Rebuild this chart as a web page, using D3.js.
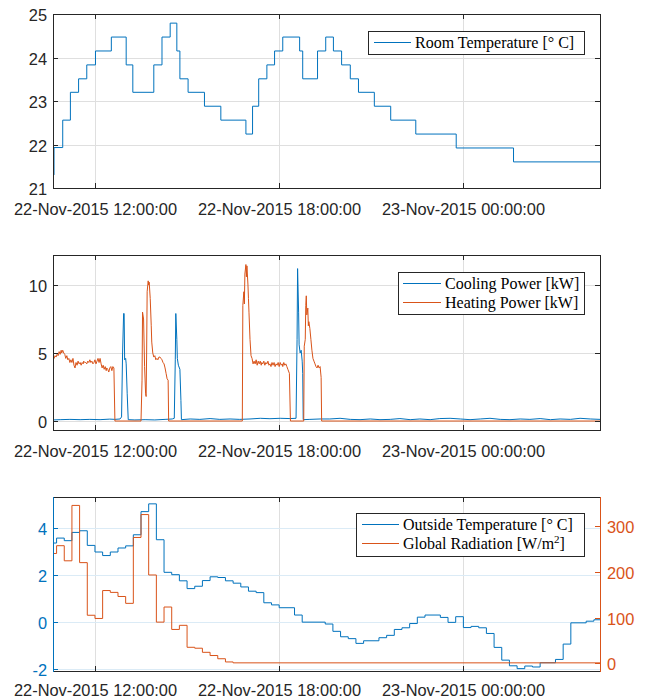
<!DOCTYPE html>
<html><head><meta charset="utf-8">
<script src="https://cdn.jsdelivr.net/npm/d3@7"></script>
<style>body{margin:0;background:#fff}svg{display:block}</style>
</head><body>
<svg id="c" width="646" height="699"></svg>
<script>
// ---- data (time = minutes after 22-Nov-2015 00:00) ----
const timeRange = [638, 1707];
const xTickMinutes = [720, 1080, 1440];

const roomTemperature = [[638,21.3],[640,21.93],[657,22.56],[672,23.2],[688,23.51],[704,23.83],[721,24.15],[752,24.47],[781,23.83],[794,23.2],[835,23.83],[851,24.47],[867,24.79],[880,24.15],[886,23.51],[902,23.2],[934,22.88],[966,22.56],[1015,22.24],[1028,22.88],[1040,23.51],[1056,23.83],[1071,24.15],[1087,24.47],[1120,24.15],[1126,23.51],[1155,24.15],[1171,24.47],[1186,24.15],[1202,23.83],[1219,23.51],[1235,23.2],[1266,22.88],[1298,22.56],[1347,22.24],[1426,21.92],[1538,21.6]];

const coolingPower = [[638,0.08],[652,0.1],[671,0.12],[691,0.1],[710,0.12],[730,0.1],[749,0.14],[759,0.12],[769,0.15],[772,0.3],[774,5.0],[776,7.9],[777,7.9],[778,4.5],[780,4.6],[781,4.2],[783,2.0],[785,0.1],[798,0.08],[818,0.1],[837,0.08],[857,0.12],[871,0.15],[875,0.2],[877,4.5],[878,7.9],[880,6.0],[881,4.6],[883,4.1],[886,3.8],[888,1.5],[889,0.1],[906,0.15],[925,0.12],[945,0.18],[964,0.12],[984,0.15],[1003,0.12],[1023,0.15],[1043,0.2],[1062,0.17],[1082,0.2],[1101,0.18],[1113,0.2],[1115,6.0],[1116,11.2],[1118,8.0],[1119,5.6],[1121,5.0],[1123,5.2],[1125,4.4],[1126,3.5],[1127,0.1],[1140,0.12],[1160,0.15],[1179,0.15],[1199,0.2],[1219,0.12],[1238,0.1],[1258,0.15],[1277,0.1],[1297,0.12],[1316,0.18],[1336,0.1],[1355,0.15],[1375,0.1],[1394,0.18],[1414,0.2],[1434,0.15],[1453,0.1],[1473,0.15],[1492,0.2],[1512,0.12],[1531,0.1],[1551,0.15],[1570,0.12],[1590,0.18],[1610,0.1],[1629,0.15],[1649,0.12],[1668,0.2],[1688,0.15],[1707,0.12]];

const heatingPower = [[638,4.7],[640,4.6],[642,4.8],[644,4.7],[646,4.9],[648,4.8],[650,5.1],[652,4.9],[654,5.2],[655,5.0],[657,5.2],[659,5.0],[661,4.9],[663,4.6],[665,4.8],[667,4.5],[669,4.6],[671,4.3],[673,4.5],[675,4.3],[677,4.6],[679,4.1],[681,3.9],[683,4.3],[685,4.1],[687,4.4],[689,4.2],[691,4.3],[693,4.1],[695,4.3],[697,4.2],[698,4.4],[700,4.3],[702,4.3],[704,4.2],[706,4.4],[708,4.3],[710,4.5],[712,4.3],[714,4.4],[716,4.2],[718,4.3],[720,4.5],[722,4.2],[724,4.4],[726,4.6],[728,4.3],[730,4.6],[732,4.2],[734,3.9],[736,4.1],[738,3.8],[740,4.0],[742,3.7],[743,3.9],[745,3.8],[747,3.6],[749,3.9],[751,4.0],[753,3.7],[755,4.0],[757,3.9],[759,0],[810,0],[812,3.0],[813,8.0],[815,7.5],[817,4.0],[819,2.0],[820,1.8],[821,5.0],[822,9.5],[824,10.3],[825,10.0],[826,10.2],[828,9.0],[830,7.0],[831,5.8],[833,5.0],[835,4.7],[837,4.8],[839,4.5],[841,4.6],[843,4.5],[845,4.7],[847,4.7],[849,4.6],[851,4.5],[853,4.3],[855,4.2],[857,3.9],[859,3.5],[861,3.1],[863,3.0],[864,0],[1008,0],[1009,8.5],[1011,9.5],[1012,8.6],[1013,10.8],[1015,11.5],[1016,10.6],[1017,11.4],[1019,10.0],[1020,9.0],[1021,8.0],[1023,6.0],[1025,4.8],[1027,4.6],[1029,4.2],[1031,4.4],[1033,4.2],[1035,4.5],[1037,4.1],[1039,4.4],[1041,4.2],[1043,4.4],[1045,4.1],[1046,4.3],[1048,4.2],[1050,4.4],[1052,4.1],[1054,4.3],[1056,4.2],[1058,4.4],[1060,4.1],[1062,4.2],[1064,4.0],[1066,4.3],[1068,4.1],[1070,4.3],[1072,4.0],[1074,4.2],[1076,4.1],[1078,4.3],[1080,4.0],[1082,4.3],[1084,4.1],[1086,4.2],[1087,4.0],[1089,4.3],[1091,4.1],[1093,4.2],[1095,4.0],[1097,3.8],[1100,3.5],[1102,0],[1128,0],[1129,5.5],[1131,6.0],[1132,8.5],[1133,9.2],[1134,7.8],[1136,8.3],[1137,7.0],[1138,7.3],[1140,6.8],[1142,6.0],[1144,5.2],[1146,4.6],[1148,4.4],[1150,4.2],[1152,4.0],[1154,3.9],[1156,4.1],[1158,3.9],[1160,4.0],[1162,3.2],[1163,0],[1707,0]];

const outsideTemperature = [[638,3.35],[645,3.56],[660,3.45],[675,3.80],[690,3.87],[705,3.25],[720,2.97],[735,2.82],[750,2.97],[765,3.14],[780,3.23],[795,3.70],[810,4.68],[825,5.01],[840,3.49],[855,2.11],[870,2.01],[885,1.75],[900,1.42],[915,1.52],[930,1.76],[945,1.92],[960,1.89],[975,1.75],[990,1.65],[1005,1.49],[1020,1.31],[1035,1.25],[1050,0.82],[1065,0.73],[1080,0.61],[1110,0.30],[1125,0.00],[1170,-0.08],[1185,-0.39],[1200,-0.62],[1215,-0.70],[1230,-0.90],[1245,-0.79],[1275,-0.66],[1290,-0.56],[1305,-0.31],[1320,-0.24],[1335,-0.06],[1350,0.21],[1365,0.30],[1395,0.20],[1410,-0.01],[1425,0.23],[1440,-0.23],[1455,-0.18],[1470,-0.24],[1485,-0.48],[1500,-1.07],[1515,-1.61],[1530,-1.85],[1545,-1.97],[1560,-1.86],[1575,-1.90],[1590,-1.72],[1620,-1.58],[1635,-0.93],[1650,-0.03],[1680,0.04],[1695,0.10]];

const globalRadiation = [[638,240],[645,257],[660,224],[675,345],[690,220],[705,105],[720,98],[735,159],[750,155],[765,146],[780,131],[795,275],[810,325],[825,193],[840,90],[855,123],[870,74],[885,83],[900,35],[915,33],[930,24],[945,17],[960,10],[975,3],[990,1]];

const roomTicks = [21, 22, 23, 24, 25];
const powerTicks = [0, 5, 10];
const outsideTicks = [-2, 0, 2, 4];
const radiationTicks = [0, 100, 200, 300];

// ---- drawing ----
const BLUE = "#0072BD", ORANGE = "#D95319", AX = "#262626", GRID = "#dfdfdf", GRIDB = "#dbebf6";
const FONT = "'Liberation Sans', Arial, Helvetica, sans-serif";
const SERIF = "'Liberation Serif', 'Times New Roman', serif";
const FS = "16.4px";
const toDate = m => new Date(2015, 10, 22, 0, m);
const L = 53, R = 600;
const x = d3.scaleTime().domain(timeRange.map(toDate)).range([L, R]);
const fmt = d3.timeFormat("%d-%b-%Y %H:%M:%S");
const svg = d3.select("#c");

function extendStep(arr) { return arr.concat([[timeRange[1], arr[arr.length - 1][1]]]); }

function panel(top, bottom, id) {
  const g = svg.append("g");
  g.append("defs").append("clipPath").attr("id", id).append("rect")
    .attr("x", L).attr("y", top).attr("width", R - L).attr("height", bottom - top);
  return g;
}
function xGrid(g, top, bottom) {
  xTickMinutes.forEach(m => {
    const px = Math.round(x(toDate(m))) + 0.5;
    g.append("line").attr("x1", px).attr("x2", px).attr("y1", top).attr("y2", bottom)
      .attr("stroke", GRID).attr("stroke-width", 1);
  });
}
function yGrid(g, y, ticks, color) {
  ticks.forEach(t => {
    const py = Math.round(y(t)) + 0.5;
    g.append("line").attr("x1", L).attr("x2", R).attr("y1", py).attr("y2", py)
      .attr("stroke", color).attr("stroke-width", 1);
  });
}
function xAxis(g, top, bottom, labelOffset) {
  xTickMinutes.forEach(m => {
    const px = Math.round(x(toDate(m))) + 0.5;
    g.append("line").attr("x1", px).attr("x2", px).attr("y1", bottom).attr("y2", bottom - 5).attr("stroke", AX);
    g.append("line").attr("x1", px).attr("x2", px).attr("y1", top).attr("y2", top + 5).attr("stroke", AX);
    g.append("text").attr("x", px).attr("y", bottom + labelOffset).attr("text-anchor", "middle")
      .attr("font-family", FONT).attr("font-size", FS).attr("fill", AX).text(fmt(toDate(m)));
  });
}
function yAxisLeft(g, y, ticks, color, both) {
  ticks.forEach(t => {
    const py = Math.round(y(t)) + 0.5;
    g.append("line").attr("x1", L).attr("x2", L + 5).attr("y1", py).attr("y2", py).attr("stroke", color);
    if (both) g.append("line").attr("x1", R).attr("x2", R - 5).attr("y1", py).attr("y2", py).attr("stroke", color);
    g.append("text").attr("x", L - 6).attr("y", py + 6).attr("text-anchor", "end")
      .attr("font-family", FONT).attr("font-size", FS).attr("fill", color).text(t);
  });
}
function frame(g, top, bottom, leftColor, rightColor) {
  g.append("line").attr("x1", L).attr("x2", R).attr("y1", top + 0.5).attr("y2", top + 0.5).attr("stroke", AX);
  g.append("line").attr("x1", L).attr("x2", R).attr("y1", bottom + 0.5).attr("y2", bottom + 0.5).attr("stroke", AX);
  g.append("line").attr("x1", L + 0.5).attr("x2", L + 0.5).attr("y1", top).attr("y2", bottom + 1).attr("stroke", leftColor);
  g.append("line").attr("x1", R + 0.5).attr("x2", R + 0.5).attr("y1", top).attr("y2", bottom + 1).attr("stroke", rightColor);
}
function series(g, data, y, color, curve, clip) {
  const line = d3.line().x(d => x(toDate(d[0]))).y(d => y(d[1])).curve(curve);
  g.append("path").attr("d", line(data)).attr("fill", "none").attr("stroke", color)
    .attr("stroke-width", 1).attr("clip-path", `url(#${clip})`);
}
function legend(g, x0, y0, w, h, items, lineX1, lineX2, textX) {
  g.append("rect").attr("x", x0 + 0.5).attr("y", y0 + 0.5).attr("width", w).attr("height", h)
    .attr("fill", "#fff").attr("stroke", AX).attr("stroke-width", 1);
  items.forEach(it => {
    g.append("line").attr("x1", lineX1).attr("x2", lineX2).attr("y1", it.y + 0.5).attr("y2", it.y + 0.5)
      .attr("stroke", it.color).attr("stroke-width", 1);
    const t = g.append("text").attr("x", textX).attr("y", it.y + 5.5).attr("font-family", SERIF)
      .attr("font-size", "16px").attr("fill", "#000");
    it.parts.forEach(p => {
      const s = t.append("tspan").text(p.s);
      if (p.sup) s.attr("dy", -6).attr("font-size", "11px");
      if (p.down) s.attr("dy", 6);
    });
  });
}

// Panel 1: room temperature
{
  const top = 14, bottom = 188;
  const y = d3.scaleLinear().domain([21, 25]).range([bottom, top]);
  const g = panel(top, bottom, "c1");
  xGrid(g, top, bottom); yGrid(g, y, roomTicks, GRID);
  series(g, extendStep(roomTemperature), y, BLUE, d3.curveStepAfter, "c1");
  xAxis(g, top, bottom, 27); yAxisLeft(g, y, roomTicks, AX, true);
  frame(g, top, bottom, AX, AX);
  legend(g, 368, 31, 216, 23, [{y: 42, color: BLUE, parts: [{s: "Room Temperature [° C]"}]}], 374, 411, 415);
}
// Panel 2: power
{
  const top = 255, bottom = 430;
  const y = d3.scaleLinear().domain([-0.66, 12.2]).range([bottom, top]);
  const g = panel(top, bottom, "c2");
  xGrid(g, top, bottom); yGrid(g, y, powerTicks, GRID);
  series(g, coolingPower, y, BLUE, d3.curveLinear, "c2");
  series(g, heatingPower, y, ORANGE, d3.curveLinear, "c2");
  xAxis(g, top, bottom, 27); yAxisLeft(g, y, powerTicks, AX, true);
  frame(g, top, bottom, AX, AX);
  legend(g, 398, 272, 186, 42, [
    {y: 283, color: BLUE, parts: [{s: "Cooling Power [kW]"}]},
    {y: 302, color: ORANGE, parts: [{s: "Heating Power [kW]"}]}], 403, 441, 445);
}
// Panel 3: weather
{
  const top = 497, bottom = 671;
  const yL = d3.scaleLinear().domain([-2.07, 5.3]).range([bottom, top]);
  const yR = d3.scaleLinear().domain([-16.8, 363.4]).range([bottom, top]);
  const g = panel(top, bottom, "c3");
  xGrid(g, top, bottom); yGrid(g, yL, outsideTicks, GRIDB);
  series(g, extendStep(outsideTemperature), yL, BLUE, d3.curveStepAfter, "c3");
  series(g, extendStep(globalRadiation), yR, ORANGE, d3.curveStepAfter, "c3");
  xAxis(g, top, bottom, 25); yAxisLeft(g, yL, outsideTicks, BLUE, false);
  radiationTicks.forEach(t => {
    const py = Math.round(yR(t)) + 0.5;
    g.append("line").attr("x1", R).attr("x2", R - 5).attr("y1", py).attr("y2", py).attr("stroke", ORANGE);
    g.append("text").attr("x", R + 7).attr("y", py + 6).attr("font-family", FONT)
      .attr("font-size", FS).attr("fill", ORANGE).text(t);
  });
  frame(g, top, bottom, BLUE, ORANGE);
  legend(g, 356, 513, 228, 43, [
    {y: 524, color: BLUE, parts: [{s: "Outside Temperature [° C]"}]},
    {y: 543, color: ORANGE, parts: [{s: "Global Radiation [W/m"}, {s: "2", sup: true}, {s: "]", down: true}]}], 362, 399, 403);
}
</script>
</body></html>
